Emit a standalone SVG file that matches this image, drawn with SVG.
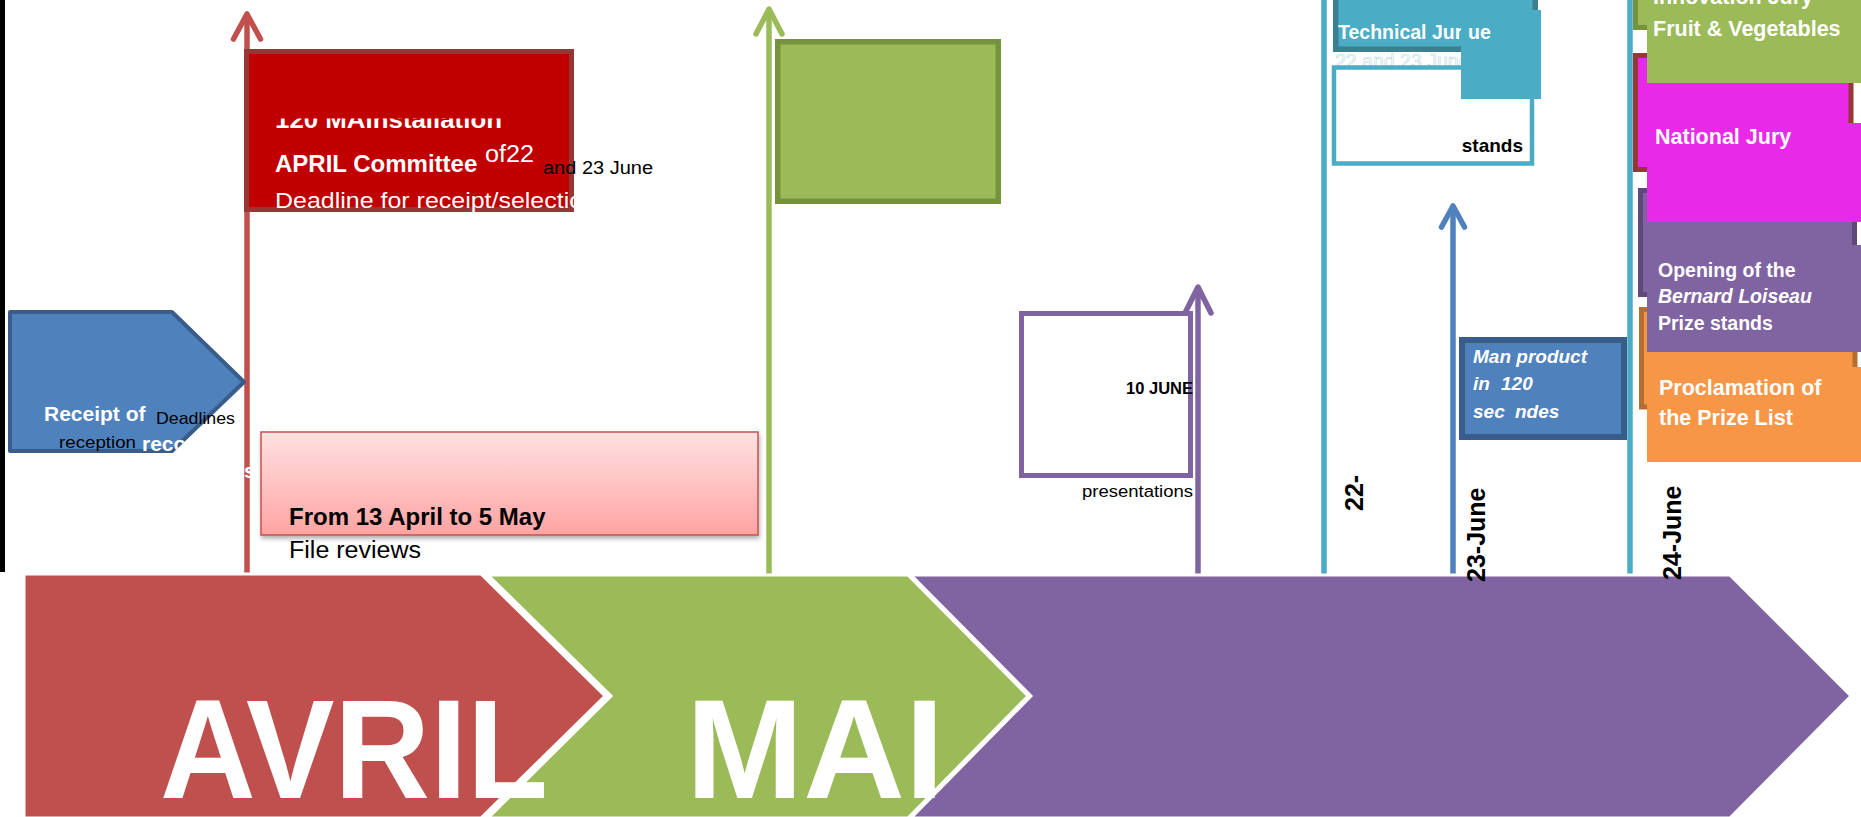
<svg xmlns="http://www.w3.org/2000/svg" width="1861" height="817" viewBox="0 0 1861 817">
<defs>
<style>
text{font-family:"Liberation Sans",Arial,sans-serif}
.b{font-weight:bold}
.i{font-style:italic}
.w{fill:#ffffff}
.k{fill:#000000}
.conn{fill:none;stroke-width:5.5}
.chev{stroke:#ffffff;stroke-width:3;stroke-linejoin:miter}
.big{font-size:141px;font-weight:bold;fill:#ffffff}
.date{font-size:25px;font-weight:bold;fill:#000000}
.ah{fill:none;stroke-width:5.5;stroke-linecap:round;stroke-linejoin:round}
</style>
<linearGradient id="pinkGrad" x1="0" y1="0" x2="0" y2="1"><stop offset="0" stop-color="#ffe1e1"/><stop offset="1" stop-color="#ffa3a3"/></linearGradient>
<filter id="shadow" x="-5%" y="-10%" width="115%" height="140%"><feDropShadow dx="1" dy="3" stdDeviation="2" flood-color="#000000" flood-opacity="0.3"/></filter>
<clipPath id="clipRedBox"><rect x="244" y="118.5" width="330" height="95.5"/></clipPath>
<clipPath id="clipPent"><polygon points="8,310 173,310 246,382 173,453 8,453"/></clipPath>
<clipPath id="clipBottom"><rect x="0" y="560" width="1861" height="257"/></clipPath>
<marker id="ah-red" markerUnits="userSpaceOnUse" orient="auto" overflow="visible" markerWidth="1" markerHeight="1"><path class="ah" stroke="#c0504d" d="M-25,-13.5 L0,0 L-25,13.5"/></marker>
<marker id="ah-green" markerUnits="userSpaceOnUse" orient="auto" overflow="visible" markerWidth="1" markerHeight="1"><path class="ah" stroke="#9bbb59" d="M-25,-13 L0,0 L-25,13"/></marker>
<marker id="ah-purple" markerUnits="userSpaceOnUse" orient="auto" overflow="visible" markerWidth="1" markerHeight="1"><path class="ah" stroke="#8064a2" d="M-26,-13 L0,0 L-26,13"/></marker>
<marker id="ah-blue" markerUnits="userSpaceOnUse" orient="auto" overflow="visible" markerWidth="1" markerHeight="1"><path class="ah" stroke="#4f81bd" d="M-21,-11.5 L0,0 L-21,11.5"/></marker>
</defs>

<rect x="0" y="0" width="5" height="572" fill="#000000"/>

<g id="connectors">
<line class="conn" stroke="#c0504d" x1="247" y1="575" x2="247" y2="14" marker-end="url(#ah-red)"/>
<line class="conn" stroke="#9bbb59" x1="769" y1="577" x2="769" y2="9" marker-end="url(#ah-green)"/>
<line class="conn" stroke="#8064a2" x1="1198" y1="577" x2="1198" y2="287" marker-end="url(#ah-purple)"/>
<line class="conn" stroke="#4f81bd" x1="1453" y1="577" x2="1453" y2="206" marker-end="url(#ah-blue)"/>
<line class="conn" stroke="#4bacc6" stroke-width="5" x1="1324" y1="0" x2="1324" y2="577"/>
<line class="conn" stroke="#4bacc6" stroke-width="5" x1="1630" y1="0" x2="1630" y2="577"/>
</g>

<g id="receipt">
<polygon points="10,312 172,312 244,382 172,451 10,451" fill="#4f81bd" stroke="#385d8a" stroke-width="4" stroke-linejoin="round"/>
<text class="b w" x="44" y="421" font-size="21">Receipt of</text>
<text class="k" x="156" y="424" font-size="17" textLength="79" lengthAdjust="spacingAndGlyphs">Deadlines</text>
<text class="k" x="59" y="448" font-size="17" textLength="77" lengthAdjust="spacingAndGlyphs">reception</text>
<text class="b w" x="142" y="451" font-size="21" clip-path="url(#clipPent)">reco</text>
<text class="b w" x="244" y="478" font-size="21">s</text>
</g>

<g id="april-committee">
<rect x="246.5" y="51.5" width="325" height="158" fill="#c00000" stroke="#953735" stroke-width="5"/>
<g clip-path="url(#clipRedBox)">
<text class="b w" x="275" y="127.5" font-size="24" textLength="227" lengthAdjust="spacingAndGlyphs">120 MAInstallation</text>
<text class="w" x="275" y="208" font-size="22" textLength="322" lengthAdjust="spacingAndGlyphs">Deadline for receipt/selection</text>
</g>
<text class="b w" x="275" y="172" font-size="24">APRIL Committee</text>
<text class="w" x="485" y="162" font-size="23" textLength="49" lengthAdjust="spacingAndGlyphs">of22</text>
<text class="k" x="543" y="174" font-size="18" textLength="110" lengthAdjust="spacingAndGlyphs">and 23 June</text>
</g>

<g id="file-reviews">
<rect x="261" y="432" width="497" height="103" fill="url(#pinkGrad)" stroke="#c9504d" stroke-width="1.5" filter="url(#shadow)"/>
<text class="b k" x="289" y="525" font-size="24">From 13 April to 5 May</text>
<text class="k" x="289" y="558" font-size="23" textLength="132" lengthAdjust="spacingAndGlyphs">File reviews</text>
</g>

<g id="may-box">
<rect x="777.75" y="41.75" width="220.5" height="159.5" fill="#9bbb59" stroke="#76923c" stroke-width="5.5"/>
</g>

<g id="june10">
<rect x="1021.5" y="313.5" width="169" height="162" fill="#ffffff" stroke="#8064a2" stroke-width="5"/>
<text class="b k" x="1193" y="394" font-size="16.5" text-anchor="end">10 JUNE</text>
<text class="k" x="1082" y="497" font-size="16" textLength="111" lengthAdjust="spacingAndGlyphs">presentations</text>
</g>

<g id="technical-jury">
<text class="w" x="1335" y="68" font-size="19.5" stroke="#b8d8e2" stroke-width="0.6">22 and 23 June</text>
<rect x="1335.75" y="-10" width="199.5" height="59.25" fill="#4bacc6" stroke="#3b7f91" stroke-width="5.5"/>
<text class="b w" x="1338" y="39" font-size="19.5">Technical Jur</text>
</g>

<g id="stands">
<rect x="1334" y="67.5" width="198" height="96" fill="#ffffff" stroke="#4bacc6" stroke-width="4.5"/>
<text class="b k" x="1523" y="152" font-size="19" text-anchor="end">stands</text>
<rect x="1461" y="10" width="80" height="89" fill="#4bacc6"/>
<text class="b w" x="1468" y="39" font-size="19.5">ue</text>
</g>

<g id="pitch">
<rect x="1462" y="340" width="162" height="97" fill="#4f81bd" stroke="#385d8a" stroke-width="6"/>
<text class="b i w" x="1473" y="363" font-size="19">Man product</text>
<text class="b i w" y="390" font-size="19"><tspan x="1473">in</tspan><tspan x="1501">120</tspan></text>
<text class="b i w" y="418" font-size="19"><tspan x="1473">sec</tspan><tspan x="1515">ndes</tspan></text>
</g>

<g id="innovation-jury-frame">
<rect x="1635.5" y="-10" width="240" height="37.5" fill="#9bbb59" stroke="#76923c" stroke-width="5"/>
</g>
<g id="national-jury-frame">
<rect x="1635.5" y="55.5" width="215.5" height="114" fill="#e829e8" stroke="#953735" stroke-width="5"/>
</g>
<g id="opening-frame">
<rect x="1640.5" y="190.5" width="214" height="104" fill="#8064a2" stroke="#5f497a" stroke-width="5"/>
</g>
<g id="proclamation-frame">
<rect x="1641.5" y="309.5" width="213.5" height="97.5" fill="#f79646" stroke="#b66d31" stroke-width="5"/>
</g>

<g id="innovation-jury">
<rect x="1647" y="-5" width="220" height="88" fill="#9bbb59"/>
<text class="b w" x="1653" y="4" font-size="21.5">Innovation Jury</text>
<text class="b w" x="1653" y="36" font-size="21.5">Fruit &amp; Vegetables</text>
</g>

<g id="national-jury">
<rect x="1647" y="123" width="220" height="99" fill="#e829e8"/>
<text class="b w" x="1655" y="144" font-size="21.5">National Jury</text>
</g>

<g id="opening">
<rect x="1647" y="245" width="220" height="107" fill="#8064a2"/>
<text class="b w" x="1658" y="277" font-size="19.5">Opening of the</text>
<text class="b i w" x="1658" y="303" font-size="19.5">Bernard Loiseau</text>
<text class="b w" x="1658" y="330" font-size="19.5">Prize stands</text>
</g>

<g id="proclamation">
<rect x="1647" y="367" width="220" height="95" fill="#f79646"/>
<text class="b w" x="1659" y="395" font-size="21.5">Proclamation of</text>
<text class="b w" x="1659" y="425" font-size="21.5">the Prize List</text>
</g>

<g id="timeline">
<polygon class="chev" fill="#c0504d" points="24,574 481,574 605,696 481,818 24,818"/>
<polygon class="chev" fill="#9bbb59" points="488,575 908,575 1028,696 908,818 488,818 611,696"/>
<polygon class="chev" fill="#8064a2" points="911,575 1730,575 1851,696 1730,818 911,818 1031,696"/>
<text class="big" x="160" y="798" textLength="388" lengthAdjust="spacingAndGlyphs">AVRIL</text>
<text class="big" x="686" y="798" textLength="258" lengthAdjust="spacingAndGlyphs">MAI</text>
</g>

<g id="dates">
<text class="date" transform="translate(1363,511) rotate(-90)">22-</text>
<text class="date" transform="translate(1485,582) rotate(-90)">23-June</text>
<text class="date" transform="translate(1681,580) rotate(-90)">24-June</text>
</g>
</svg>
